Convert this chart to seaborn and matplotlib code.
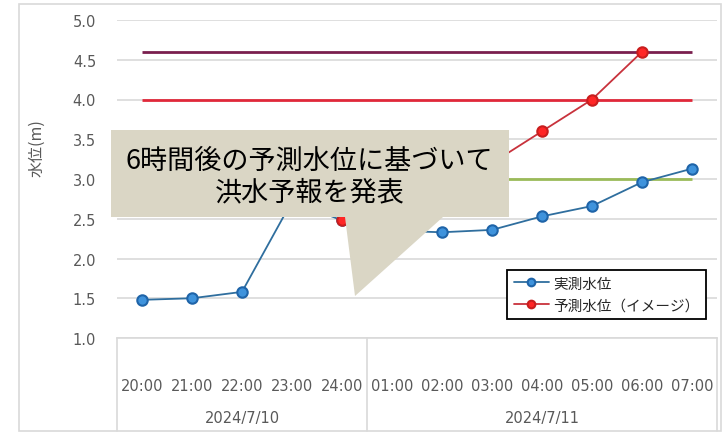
"""Observed and forecast river water level chart (flood forecast illustration)."""

import matplotlib

matplotlib.use("Agg")

import matplotlib.pyplot as plt
import matplotlib.transforms as mtransforms
import numpy as np
import pandas as pd
import seaborn as sns
from matplotlib.patches import Polygon, Rectangle

# ---- data -------------------------------------------------------------
times = ["20:00", "21:00", "22:00", "23:00", "24:00", "01:00",
         "02:00", "03:00", "04:00", "05:00", "06:00", "07:00"]
time_dates = ["2024/7/10"] * 5 + ["2024/7/11"] * 7
observed = [1.48, 1.50, 1.58, 2.72, 2.48, 2.35, 2.33, 2.36, 2.53, 2.66, 2.96, 3.13]
forecast_times = ["24:00", "01:00", "02:00", "03:00", "04:00", "05:00", "06:00"]
forecast = [2.48, 2.65, 2.90, 3.20, 3.60, 4.00, 4.60]
threshold_levels = [4.6, 4.0, 3.0]
threshold_colors = ["#7A1F4E", "#E0283A", "#9BBB59"]
series_labels = ["実測水位", "予測水位（イメージ）"]
callout_lines = ["6時間後の予測水位に基づいて", "洪水予報を発表"]
y_label = "水位(m)"

W, H = 726, 435
CJK = ["Noto Sans CJK JP", "DejaVu Sans"]
GRID = "#D9D9D9"
TEXT = "#595959"


def fig_px(x, y):
    """Pixel position (top-left origin) to figure fraction."""
    return (x / W, 1 - y / H)


sns.set_theme(style="white")
plt.rcParams["font.family"] = ["DejaVu Sans", "Noto Sans CJK JP"]

fig = plt.figure(figsize=(W / 100, H / 100), dpi=100)
ax = fig.add_axes([117 / W, 1 - 339 / H, 600 / W, 318 / H])

obs_df = pd.DataFrame({"pos": range(len(times)), "level": observed})
fc_df = pd.DataFrame({"pos": [times.index(t) for t in forecast_times], "level": forecast})

for level, color in zip(threshold_levels, threshold_colors):
    ax.hlines(level, 0, len(times) - 1, color=color, lw=2.0, zorder=2)

sns.lineplot(data=obs_df, x="pos", y="level", ax=ax, color="#2F6E9E", lw=1.3,
             marker="o", markersize=7.5, markerfacecolor="#3F93DC",
             markeredgecolor="#1F64A8", markeredgewidth=1.5, label=series_labels[0], zorder=3)
sns.lineplot(data=fc_df, x="pos", y="level", ax=ax, color="#C8323C", lw=1.3,
             marker="o", markersize=7.5, markerfacecolor="#FF2626",
             markeredgecolor="#C81E1E", markeredgewidth=1.5, label=series_labels[1], zorder=4)

# axes styling
ax.set_xlim(-0.5, len(times) - 0.5)
ax.set_ylim(1.0, 5.0)
ax.set_yticks(np.arange(1.0, 5.01, 0.5))
ax.yaxis.set_major_formatter(matplotlib.ticker.FormatStrFormatter("%.1f"))
ax.yaxis.grid(True, color=GRID, lw=1.2)
ax.set_axisbelow(True)
for side in ["top", "right", "left"]:
    ax.spines[side].set_visible(False)
ax.spines["bottom"].set_color(GRID)
ax.spines["bottom"].set_linewidth(1.2)
ax.tick_params(axis="y", length=0, pad=15, labelsize=10.5, labelcolor=TEXT)
ax.set_xticks(range(len(times)))
ax.set_xticklabels(times)
ax.tick_params(axis="x", length=0, pad=29, labelsize=10.5, labelcolor=TEXT)
ax.set_xlabel("")
ax.set_ylabel(y_label, fontsize=11.5, color=TEXT, family=CJK)
ax.yaxis.set_label_coords(-0.12, 0.6)

# two-level category axis: date groups with separators
blend = mtransforms.blended_transform_factory(ax.transData, ax.transAxes)
groups = list(dict.fromkeys(time_dates))
bounds = [-0.5]
for d in groups:
    idx = [i for i, t in enumerate(time_dates) if t == d]
    ax.text(np.mean(idx), -0.25, d, transform=blend, ha="center", va="center",
            fontsize=10.5, color=TEXT)
    bounds.append(idx[-1] + 0.5)
for b in bounds:
    ax.plot([b, b], [0, -0.292], transform=blend, clip_on=False, color=GRID, lw=1.2)

leg = ax.legend(loc="upper right", bbox_to_anchor=fig_px(706, 271), bbox_transform=fig.transFigure,
                frameon=True, fancybox=False, framealpha=1, edgecolor="black",
                prop={"family": CJK, "size": 10.5}, handlelength=2.4, handletextpad=0.3,
                labelspacing=0.55, borderpad=0.45, borderaxespad=0)
leg.get_frame().set_linewidth(1.3)
for h in leg.legend_handles:
    h.set_markersize(5.5)

# outer chart frame
x0, y0 = fig_px(19, 432)
fig.add_artist(Rectangle((x0, y0), (721 - 19) / W, (432 - 5) / H, transform=fig.transFigure,
                         fill=False, edgecolor=GRID, lw=1.2))

# callout balloon
balloon = [(111, 131), (509, 131), (509, 218), (443, 218), (355, 297), (345, 218), (111, 218)]
fig.add_artist(Polygon([fig_px(x, y) for x, y in balloon], closed=True, transform=fig.transFigure,
                       facecolor="#DAD6C5", edgecolor="none", zorder=5))
for (cx, cy), line in zip([(309, 161), (310, 193)], callout_lines):
    fig.text(*fig_px(cx, cy), line, ha="center", va="center", fontsize=19.5,
             family=CJK, color="black", zorder=6)

fig.savefig("out.png", dpi=100)
plt.close(fig)
